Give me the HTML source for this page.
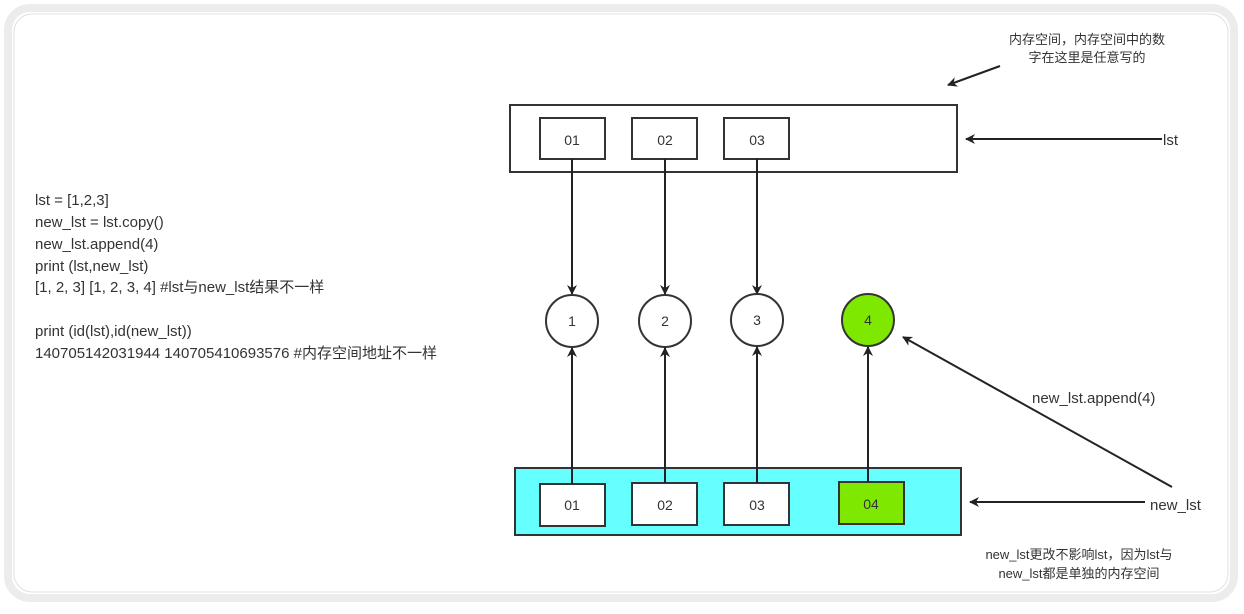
<!DOCTYPE html>
<html><head><meta charset="utf-8"><style>
html,body{margin:0;padding:0;background:#fff;}
body{width:1244px;height:609px;overflow:hidden;}
text{font-family:"Liberation Sans","Noto Sans CJK SC",sans-serif;fill:#333;}
</style></head><body>
<svg width="1244" height="609" viewBox="0 0 1244 609" xmlns="http://www.w3.org/2000/svg">
<defs>
<marker id="a" markerWidth="10" markerHeight="10" refX="9" refY="5" orient="auto" markerUnits="userSpaceOnUse">
<path d="M0,0 L10,5 L0,10 L3,5 Z" fill="#222"/></marker>
</defs>
<rect x="0" y="0" width="1244" height="609" fill="#fff"/>
<rect x="8" y="8" width="1226" height="590" rx="22" fill="none" stroke="#ececec" stroke-width="8"/>
<rect x="14" y="14" width="1214" height="578" rx="18" fill="#fff" stroke="#e0e0e0" stroke-width="1"/>

<g font-size="15">
<text x="35" y="205">lst = [1,2,3]</text>
<text x="35" y="227">new_lst = lst.copy()</text>
<text x="35" y="249">new_lst.append(4)</text>
<text x="35" y="271">print (lst,new_lst)</text>
<text x="35" y="292">[1, 2, 3] [1, 2, 3, 4]  #lst与new_lst结果不一样</text>
<text x="35" y="336">print (id(lst),id(new_lst))</text>
<text x="35" y="358">140705142031944 140705410693576  #内存空间地址不一样</text>
</g>

<g font-size="13" text-anchor="middle">
<text x="1087" y="44">内存空间，内存空间中的数</text>
<text x="1087" y="62">字在这里是任意写的</text>
</g>
<line x1="1000" y1="66" x2="948" y2="85" stroke="#222" stroke-width="2" marker-end="url(#a)"/>

<rect x="510" y="105" width="447" height="67" fill="#fff" stroke="#333" stroke-width="2"/>
<g fill="#fff" stroke="#333" stroke-width="2">
<rect x="540" y="118" width="65" height="41"/>
<rect x="632" y="118" width="65" height="41"/>
<rect x="724" y="118" width="65" height="41"/>
</g>
<g font-size="14" text-anchor="middle">
<text x="572" y="145">01</text><text x="665" y="145">02</text><text x="757" y="145">03</text>
</g>
<line x1="1162" y1="139" x2="966" y2="139" stroke="#222" stroke-width="2" marker-end="url(#a)"/>
<text x="1163" y="145" font-size="15">lst</text>

<g stroke="#222" stroke-width="2">
<line x1="572" y1="159" x2="572" y2="294" marker-end="url(#a)"/>
<line x1="665" y1="159" x2="665" y2="294" marker-end="url(#a)"/>
<line x1="757" y1="159" x2="757" y2="294" marker-end="url(#a)"/>
</g>

<g stroke="#333" stroke-width="2">
<ellipse cx="572" cy="321" rx="26" ry="26" fill="#fff"/>
<ellipse cx="665" cy="321" rx="26" ry="26" fill="#fff"/>
<ellipse cx="757" cy="320" rx="26" ry="26" fill="#fff"/>
<ellipse cx="868" cy="320" rx="26" ry="26" fill="#7fe800"/>
</g>
<g font-size="14" text-anchor="middle">
<text x="572" y="326">1</text><text x="665" y="326">2</text><text x="757" y="325">3</text><text x="868" y="325">4</text>
</g>

<rect x="515" y="468" width="446" height="67" fill="#66ffff" stroke="#333" stroke-width="2"/>
<g stroke="#333" stroke-width="2">
<rect x="540" y="484" width="65" height="42" fill="#fff"/>
<rect x="632" y="483" width="65" height="42" fill="#fff"/>
<rect x="724" y="483" width="65" height="42" fill="#fff"/>
<rect x="839" y="482" width="65" height="42" fill="#7fe800"/>
</g>
<g font-size="14" text-anchor="middle">
<text x="572" y="510">01</text><text x="665" y="510">02</text><text x="757" y="510">03</text><text x="871" y="509">04</text>
</g>

<g stroke="#222" stroke-width="2">
<line x1="572" y1="484" x2="572" y2="348" marker-end="url(#a)"/>
<line x1="665" y1="483" x2="665" y2="348" marker-end="url(#a)"/>
<line x1="757" y1="483" x2="757" y2="347" marker-end="url(#a)"/>
<line x1="868" y1="482" x2="868" y2="347" marker-end="url(#a)"/>
<line x1="1172" y1="487" x2="903" y2="337" marker-end="url(#a)"/>
<line x1="1145" y1="502" x2="970" y2="502" marker-end="url(#a)"/>
</g>
<text x="1032" y="403" font-size="15">new_lst.append(4)</text>
<text x="1150" y="510" font-size="15">new_lst</text>

<g font-size="13" text-anchor="middle">
<text x="1079" y="559">new_lst更改不影响lst，因为lst与</text>
<text x="1079" y="578">new_lst都是单独的内存空间</text>
</g>
</svg>
</body></html>
